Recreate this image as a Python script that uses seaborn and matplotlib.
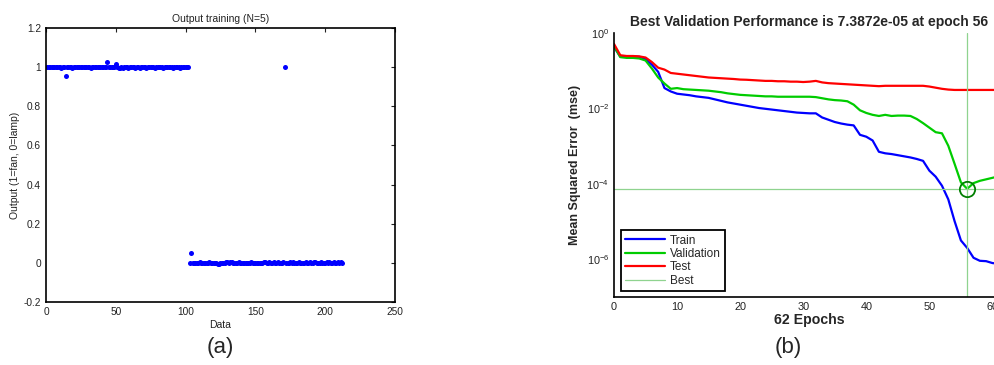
import numpy as np
import pandas as pd
import matplotlib
matplotlib.use("Agg")
import matplotlib.pyplot as plt
import seaborn as sns
from matplotlib.lines import Line2D

# ---- data (a): network output for each training sample ----
output_fan = [
    1.000, 1.001, 0.999, 1.000, 1.002, 1.000, 0.999, 1.001, 1.000, 1.000,
    0.998, 1.001, 1.000, 0.955, 0.999, 1.000, 1.001, 1.000, 0.998, 1.000,
    1.002, 1.000, 0.999, 1.000, 1.001, 1.000, 1.000, 0.999, 1.001, 1.000,
    1.000, 0.998, 1.000, 1.001, 1.003, 1.000, 0.999, 1.000, 1.002, 1.001,
    1.000, 0.999, 1.001, 1.026, 1.000, 1.001, 0.999, 1.003, 1.000, 1.014,
    1.000, 0.997, 0.996, 1.000, 0.998, 1.001, 0.999, 1.000, 0.997, 1.000,
    1.001, 0.999, 1.000, 0.998, 1.000, 1.001, 0.998, 1.000, 0.999, 1.001,
    1.000, 0.997, 1.000, 1.000, 0.999, 1.001, 1.000, 0.998, 1.000, 1.001,
    0.999, 1.000, 1.000, 0.998, 1.001, 1.000, 0.999, 1.000, 1.002, 1.000,
    0.998, 1.000, 0.999, 1.001, 1.000, 0.998, 1.000, 1.001, 0.999, 1.000,
    1.000, 1.000,
]
output_lamp = [
    0.001, 0.050, 0.000, -0.002, 0.001, 0.000, -0.001, 0.002, 0.000, -0.002,
    0.000, 0.001, -0.001, 0.000, 0.002, -0.001, 0.000, -0.002, 0.001, -0.003,
    -0.004, -0.006, -0.003, 0.000, -0.002, 0.001, 0.002, 0.003, 0.001, 0.004,
    0.002, 0.000, 0.001, -0.001, 0.000, 0.002, 0.001, 0.000, -0.001, 0.000,
    0.001, 0.000, -0.001, 0.000, 0.002, 0.000, -0.001, 0.001, 0.000, 0.000,
    -0.001, 0.001, 0.000, 0.002, 0.003, 0.000, -0.001, 0.002, 0.000, 0.001,
    0.003, 0.000, -0.001, 0.002, 0.000, 0.001, 0.000, 0.002, 1.000, -0.001,
    0.000, 0.001, 0.003, 0.000, 0.002, 0.001, -0.001, 0.000, 0.002, 0.000,
    0.001, 0.000, -0.001, 0.002, 0.000, 0.001, 0.003, 0.000, -0.001, 0.002,
    0.004, 0.000, 0.001, 0.000, 0.002, 0.000, -0.001, 0.001, 0.002, 0.000,
    0.003, 0.001, 0.000, 0.002, 0.000, 0.001, 0.004, 0.000, 0.002, 0.001,
]
output_vals = output_fan + output_lamp
sample_idx = np.arange(1, len(output_vals) + 1)

# ---- data (b): training record, log10 of mean squared error per epoch ----
epochs = list(range(0, 63))
train_log10 = [
    -0.37, -0.63, -0.62, -0.62, -0.63, -0.69, -0.84, -1.03, -1.46, -1.55,
    -1.61, -1.63, -1.65, -1.68, -1.70, -1.72, -1.76, -1.80, -1.84, -1.87,
    -1.90, -1.93, -1.96, -1.99, -2.01, -2.03, -2.05, -2.07, -2.09, -2.11,
    -2.12, -2.13, -2.13, -2.24, -2.30, -2.36, -2.40, -2.43, -2.45, -2.70,
    -2.75, -2.85, -3.15, -3.19, -3.21, -3.24, -3.27, -3.30, -3.34, -3.39,
    -3.65, -3.81, -4.05, -4.41, -4.99, -5.50, -5.70, -5.96, -6.04, -6.05,
    -6.10, -6.12, -6.14,
]
valid_log10 = [
    -0.35, -0.64, -0.66, -0.66, -0.675, -0.73, -0.94, -1.18, -1.34, -1.48,
    -1.46, -1.49, -1.50, -1.51, -1.52, -1.53, -1.55, -1.57, -1.60, -1.62,
    -1.64, -1.65, -1.66, -1.67, -1.68, -1.68, -1.69, -1.69, -1.69, -1.69,
    -1.69, -1.69, -1.70, -1.73, -1.76, -1.78, -1.79, -1.81, -1.90, -2.05,
    -2.12, -2.17, -2.20, -2.17, -2.20, -2.19, -2.19, -2.20, -2.28, -2.39,
    -2.51, -2.63, -2.66, -2.99, -3.47, -3.96, -4.1316, -3.98, -3.92, -3.88,
    -3.84, -3.80, -3.77,
]
test_log10 = [
    -0.29, -0.59, -0.61, -0.61, -0.62, -0.65, -0.77, -0.92, -0.97, -1.06,
    -1.08, -1.10, -1.12, -1.14, -1.16, -1.18, -1.19, -1.20, -1.21, -1.22,
    -1.235, -1.24, -1.25, -1.26, -1.27, -1.27, -1.28, -1.28, -1.29, -1.29,
    -1.30, -1.29, -1.27, -1.31, -1.33, -1.34, -1.35, -1.36, -1.37, -1.38,
    -1.39, -1.40, -1.41, -1.40, -1.40, -1.40, -1.40, -1.40, -1.40, -1.40,
    -1.42, -1.45, -1.48, -1.50, -1.51, -1.51, -1.51, -1.51, -1.51, -1.51,
    -1.51, -1.51, -1.51,
]
best_epoch = 56
best_perf = 7.3872e-05

sns.set_style("white")
plt.rcParams["font.family"] = ["Liberation Sans", "DejaVu Sans"]
plt.rcParams["mathtext.default"] = "regular"
plt.rcParams["xtick.direction"] = "in"
plt.rcParams["ytick.direction"] = "in"

fig = plt.figure(figsize=(9.95, 3.65), dpi=100)

# ---------------- (a) ----------------
ax1 = fig.add_axes([0.0462, 0.1726, 0.3508, 0.7507])
df_a = pd.DataFrame({"Data": sample_idx, "Output": output_vals})
sns.scatterplot(data=df_a, x="Data", y="Output", ax=ax1, color="#0000ff",
                s=13, linewidth=0, legend=False)
ax1.set_xlim(0, 250)
ax1.set_ylim(-0.2, 1.2)
ax1.set_xticks([0, 50, 100, 150, 200, 250])
ax1.set_yticks([-0.2, 0, 0.2, 0.4, 0.6, 0.8, 1.0, 1.2])
ax1.set_yticklabels(["-0.2", "0", "0.2", "0.4", "0.6", "0.8", "1", "1.2"])
ax1.tick_params(labelsize=7.3, length=3, width=0.8, top=True, right=True,
                colors="#222222")
ax1.set_xlabel("Data", fontsize=7.5, labelpad=2, color="#222222")
ax1.set_ylabel("Output (1=fan, 0=lamp)", fontsize=7.5, labelpad=3, color="#222222")
ax1.set_title("Output training (N=5)", fontsize=7.5, pad=4, color="#222222")
for sp in ax1.spines.values():
    sp.set_linewidth(1.2)
    sp.set_color("black")

# ---------------- (b) ----------------
ax2 = fig.add_axes([0.6171, 0.1863, 0.393, 0.7233])
df_b = pd.DataFrame({
    "Epoch": epochs * 3,
    "mse": [10 ** v for v in train_log10 + valid_log10 + test_log10],
    "Set": ["Train"] * len(epochs) + ["Validation"] * len(epochs) + ["Test"] * len(epochs),
})
palette = {"Train": "#0000ff", "Validation": "#00cc00", "Test": "#ff0000"}
sns.lineplot(data=df_b, x="Epoch", y="mse", hue="Set", palette=palette,
             linewidth=1.6, ax=ax2, legend=False)
ax2.set_yscale("log")
best_col = "#8fd38f"
ax2.axhline(best_perf, color=best_col, linewidth=0.9)
ax2.axvline(best_epoch, color=best_col, linewidth=0.9)
ax2.plot([best_epoch], [best_perf], marker="o", markersize=11, mfc="none",
         mec="#007f00", mew=1.3, linestyle="none")
ax2.set_xlim(0, 62)
ax2.set_ylim(1e-7, 1)
ax2.set_xticks([0, 10, 20, 30, 40, 50, 60])
ax2.set_yticks([1e0, 1e-2, 1e-4, 1e-6])
ax2.set_yticklabels(["$10^{0}$", "$10^{-2}$", "$10^{-4}$", "$10^{-6}$"])
ax2.minorticks_off()
ax2.tick_params(labelsize=7.8, length=3, width=0.8, colors="#222222")
ax2.set_xlabel("62 Epochs", fontsize=10.2, fontweight="bold", labelpad=1)
ax2.set_ylabel("Mean Squared Error  (mse)", fontsize=9, fontweight="bold", labelpad=4)
ax2.set_title("Best Validation Performance is 7.3872e-05 at epoch 56",
              fontsize=10, fontweight="bold", pad=5)
ax2.spines["top"].set_visible(False)
ax2.spines["right"].set_visible(False)
for sp in ["left", "bottom"]:
    ax2.spines[sp].set_linewidth(1.2)
    ax2.spines[sp].set_color("black")

handles = [
    Line2D([], [], color="#0000ff", lw=1.6),
    Line2D([], [], color="#00cc00", lw=1.6),
    Line2D([], [], color="#ff0000", lw=1.6),
    Line2D([], [], color=best_col, lw=0.9),
]
leg = ax2.legend(handles, ["Train", "Validation", "Test", "Best"],
                 loc="lower left", bbox_to_anchor=(0.018, 0.023), fontsize=8.5,
                 handlelength=3.4, handletextpad=0.4, labelspacing=0.12,
                 borderpad=0.35, fancybox=False, framealpha=1,
                 borderaxespad=0)
leg.get_frame().set_edgecolor("black")
leg.get_frame().set_linewidth(1.3)

fig.text(220 / 995, 1 - 347 / 365, "(a)", fontsize=16, ha="center", va="center")
fig.text(788 / 995, 1 - 347 / 365, "(b)", fontsize=16, ha="center", va="center")

fig.savefig("out.png", dpi=100)
